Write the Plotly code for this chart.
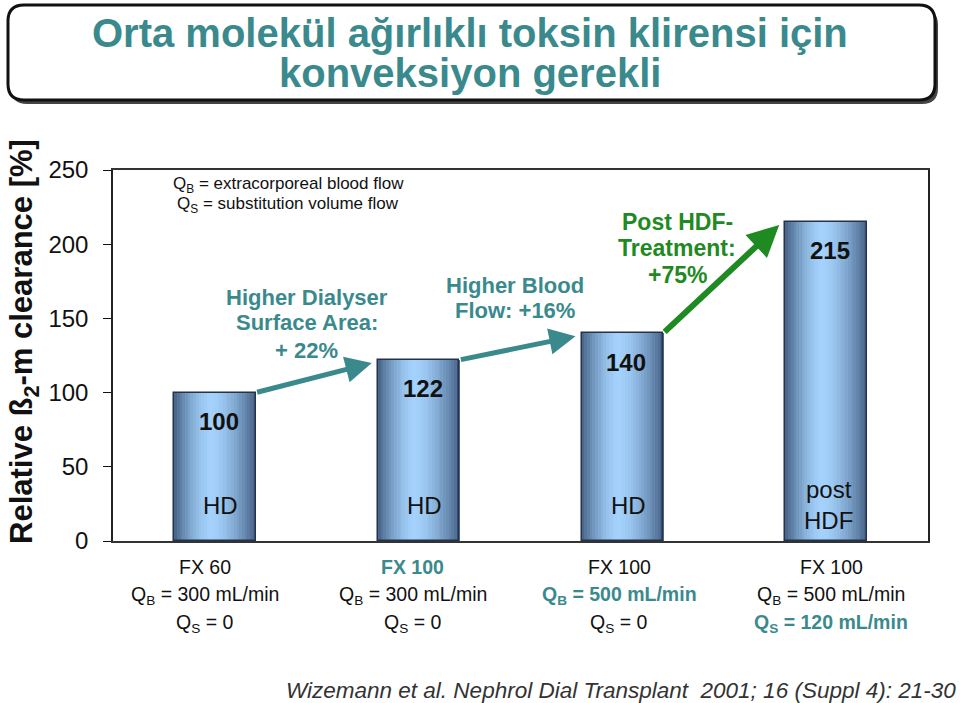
import plotly.graph_objects as go
import numpy as np

# ---------------- data ----------------
categories = ["FX 60 HD", "FX 100 HD", "FX 100 HD QB500", "FX 100 post HDF"]
values = [100, 122, 140, 215]
value_labels = ["100", "122", "140", "215"]
mode_labels = ["HD", "HD", "HD", "post<br>HDF"]
dialyser = ["FX 60", "FX 100", "FX 100", "FX 100"]
qb_labels = ["Q<sub>B</sub> = 300 mL/min", "Q<sub>B</sub> = 300 mL/min",
             "Q<sub>B</sub> = 500 mL/min", "Q<sub>B</sub> = 500 mL/min"]
qs_labels = ["Q<sub>S</sub> = 0", "Q<sub>S</sub> = 0", "Q<sub>S</sub> = 0",
             "Q<sub>S</sub> = 120 mL/min"]
highlight_dialyser = [False, True, False, False]
highlight_qb = [False, False, True, False]
highlight_qs = [False, False, False, True]
step_labels = [["Higher Dialyser", "Surface Area:", "+ 22%"],
               ["Higher Blood", "Flow: +16%"],
               ["Post HDF-", "Treatment:", "+75%"]]
title_lines = ["Orta molekül ağırlıklı toksin klirensi için", "konveksiyon gerekli"]
y_ticks = [0, 50, 100, 150, 200, 250]

TEAL = "#3a8a8d"
GREEN = "#1f8a22"
FONT = "Liberation Sans, Arial, sans-serif"

xs = list(range(len(categories)))
fig = go.Figure()

# gradient bars built from many thin bar slices
N = 30
BW = 0.40
edge = np.array([0x46, 0x62, 0x86])
center = np.array([0xa4, 0xd2, 0xfc])
for i in range(N):
    t = (i + 0.5) / N
    f = 1 - abs((t - 0.45) / (0.55 if t > 0.45 else 0.45)) ** 1.6
    c = edge + (center - edge) * f
    col = "rgb(%d,%d,%d)" % tuple(c.astype(int))
    fig.add_trace(go.Bar(x=xs, y=values, width=BW / N * 1.15, offset=-BW / 2 + i * BW / N,
                         marker=dict(color=col, line=dict(width=0)),
                         hoverinfo="skip", showlegend=False))
# outline
fig.add_trace(go.Bar(x=xs, y=values, width=BW, offset=-BW / 2,
                     marker=dict(color="rgba(0,0,0,0)", line=dict(color="#25334a", width=1.5)),
                     showlegend=False, hoverinfo="skip"))


def px(xp):
    return (xp - 113) / 815.0


def py(yp):
    return (541 - yp) / 371.0


def dy(yp):
    return (541 - yp) / 1.484


ann = []
# value labels and mode labels
for i, v in enumerate(values):
    ann.append(dict(x=xs[i], y=v, xref="x", yref="y", text="<b>%s</b>" % value_labels[i],
                    showarrow=False, yshift=-29, xshift=4,
                    font=dict(size=24, color="#111", family=FONT)))
    ann.append(dict(x=xs[i], y=24, xref="x", yref="y", text=mode_labels[i],
                    showarrow=False, xshift=6 if i < 3 else 2,
                    font=dict(size=24, color="#111", family=FONT)))
    # bottom labels
    rows = [(dialyser[i], highlight_dialyser[i]), (qb_labels[i], highlight_qb[i]),
            (qs_labels[i], highlight_qs[i])]
    for r, (txt, hl) in enumerate(rows):
        ann.append(dict(x=xs[i], y=0, xref="x", yref="paper",
                        text=("<b>%s</b>" % txt) if hl else txt,
                        showarrow=False, yanchor="middle", yshift=-26 - 28 * r,
                        xshift=[-10, -6, -3, 5][i],
                        font=dict(size=19.5, color=TEAL if hl else "#111", family=FONT)))

# arrows between bars
arrow_cols = [TEAL, TEAL, GREEN]
arrow_w = [5, 5, 6]
for i in range(3):
    ann.append(dict(x=xs[i + 1] - BW / 2 - 0.03, y=values[i + 1] - 2,
                    ax=xs[i] + BW / 2, ay=values[i],
                    xref="x", yref="y", axref="x", ayref="y",
                    showarrow=True, arrowhead=2, arrowsize=1.05, arrowwidth=arrow_w[i],
                    arrowcolor=arrow_cols[i], text=""))

step_x = [0.45, 1.475, 2.27]
step_rows = [[297, 322, 350], [285, 310], [222, 248, 275]]
for i, lines in enumerate(step_labels):
    for j, t in enumerate(lines):
        ann.append(dict(x=step_x[i], y=dy(step_rows[i][j]), xref="x", yref="y",
                        text="<b>%s</b>" % t, showarrow=False, yanchor="middle",
                        font=dict(size=22 if i < 2 else 23, color=arrow_cols[i], family=FONT)))

# legend text
ann.append(dict(x=0.36, y=dy(185), xref="x", yref="y", yanchor="middle",
                text="Q<sub>B</sub> = extracorporeal blood flow",
                showarrow=False, font=dict(size=17, color="#111", family=FONT)))
ann.append(dict(x=0.36, y=dy(205), xref="x", yref="y", yanchor="middle",
                text="Q<sub>S</sub> = substitution volume flow",
                showarrow=False, font=dict(size=17, color="#111", family=FONT)))

# title
for k, (t, yy) in enumerate(zip(title_lines, [33, 73])):
    ann.append(dict(x=px(470), y=py(yy), xref="paper", yref="paper",
                    text="<b>%s</b>" % t, showarrow=False, xanchor="center", yanchor="middle",
                    font=dict(size=40, color=TEAL, family=FONT)))

# citation
ann.append(dict(x=px(958), y=py(690), xref="paper", yref="paper", xanchor="right",
                yanchor="middle",
                text="<i>Wizemann et al. Nephrol Dial Transplant  2001; 16 (Suppl 4): 21-30</i>",
                showarrow=False, font=dict(size=22.5, color="#333", family=FONT)))

# y-axis title
ann.append(dict(x=px(24), y=py(342), xref="paper", yref="paper", textangle=-90,
                xanchor="center", yanchor="middle",
                text="<b>Relative ß<sub>2</sub>-m clearance [%]</b>",
                showarrow=False, font=dict(size=31, color="#111", family=FONT)))


def rrect(x0, y0, x1, y1, rx, ry):
    return ("M %f,%f L %f,%f Q %f,%f %f,%f L %f,%f Q %f,%f %f,%f L %f,%f Q %f,%f %f,%f "
            "L %f,%f Q %f,%f %f,%f Z") % (
        x0 + rx, y0, x1 - rx, y0, x1, y0, x1, y0 + ry, x1, y1 - ry, x1, y1, x1 - rx, y1,
        x0 + rx, y1, x0, y1, x0, y1 - ry, x0, y0 + ry, x0, y0, x0 + rx, y0)


rx, ry = 16 / 815.0, 16 / 371.0
shapes = [
    dict(type="path", xref="paper", yref="paper",
         path=rrect(px(11), py(104), px(938), py(9), rx, ry),
         fillcolor="#444", line=dict(width=0), layer="below"),
    dict(type="path", xref="paper", yref="paper",
         path=rrect(px(8), py(100), px(935), py(5), rx, ry),
         fillcolor="white", line=dict(color="#111", width=3), layer="below"),
]

fig.update_layout(
    width=960, height=703,
    margin=dict(l=113, r=32, t=170, b=162),
    paper_bgcolor="white", plot_bgcolor="white",
    barmode="overlay", bargap=0,
    showlegend=False,
    annotations=ann, shapes=shapes,
    xaxis=dict(range=[-0.5, 3.5], showticklabels=False, ticks="", showgrid=False,
               zeroline=False, showline=True, linecolor="#333", linewidth=1.5, mirror=True),
    yaxis=dict(range=[0, 250], tickvals=y_ticks, ticks="outside", ticklen=8,
               tickcolor="#111", showgrid=False, zeroline=False, showline=True,
               linecolor="#222", linewidth=1.5, mirror=True, ticklabelstandoff=10,
               tickfont=dict(size=24, color="#111", family=FONT)),
)

fig.write_html("out.html")
